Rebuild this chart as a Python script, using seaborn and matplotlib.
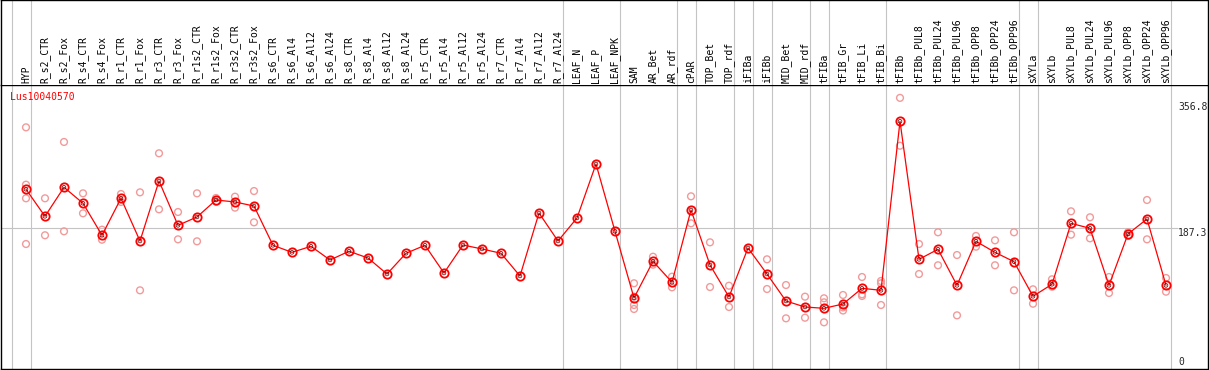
import numpy as np
import pandas as pd
import matplotlib.pyplot as plt
import seaborn as sns

# ---------------------------------------------------------
# data (expression per sample)
# ---------------------------------------------------------
GENE = "Lus10040570"

samples = [
    "HYP", "R_s2_CTR", "R_s2_Fox", "R_s4_CTR", "R_s4_Fox", "R_r1_CTR", "R_r1_Fox",
    "R_r3_CTR", "R_r3_Fox", "R_r1s2_CTR", "R_r1s2_Fox", "R_r3s2_CTR", "R_r3s2_Fox",
    "R_s6_CTR", "R_s6_Al4", "R_s6_Al12", "R_s6_Al24", "R_s8_CTR", "R_s8_Al4",
    "R_s8_Al12", "R_s8_Al24", "R_r5_CTR", "R_r5_Al4", "R_r5_Al12", "R_r5_Al24",
    "R_r7_CTR", "R_r7_Al4", "R_r7_Al12", "R_r7_Al24", "LEAF_N", "LEAF_P", "LEAF_NPK",
    "SAM", "AR_Bet", "AR_rdf", "cPAR", "TOP_Bet", "TOP_rdf", "iFIBa", "iFIBb",
    "MID_Bet", "MID_rdf", "tFIBa", "tFIB_Gr", "tFIB_Li", "tFIB_Bi", "tFIBb",
    "tFIBb_PUL8", "tFIBb_PUL24", "tFIBb_PUL96", "tFIBb_OPP8", "tFIBb_OPP24",
    "tFIBb_OPP96", "sXYLa", "sXYLb", "sXYLb_PUL8", "sXYLb_PUL24", "sXYLb_PUL96",
    "sXYLb_OPP8", "sXYLb_OPP24", "sXYLb_OPP96",
]

mean_expr = [
    237.4, 202.1, 240.0, 219.1, 177.3, 225.6, 169.8, 248.2, 190.3, 201.2, 223.4,
    220.8, 215.5, 164.2, 155.0, 162.9, 145.0, 156.4, 147.6, 126.7, 153.8, 164.2,
    128.0, 164.6, 159.4, 153.8, 124.1, 206.4, 169.8, 199.9, 270.4, 182.5, 95.4,
    143.3, 115.9, 210.3, 138.5, 96.7, 160.7, 126.7, 91.4, 83.6, 81.9, 87.5, 108.0,
    105.4, 326.2, 145.9, 159.0, 111.9, 169.4, 155.0, 142.8, 97.6, 113.3, 192.9,
    186.4, 111.9, 179.0, 198.6, 111.9,
]

nan = np.nan
rep_1 = [
    318.3, 225.6, 299.2, 232.1, 184.6, 231.2, 233.4, 284.4, 207.7, 232.1, 226.0,
    227.7, 235.1, nan, nan, nan, nan, nan, nan, nan, nan, nan, nan, nan, nan, nan,
    nan, nan, nan, nan, nan, nan, 114.6, 149.3, 123.2, 228.2, 168.1, 111.4, nan,
    145.9, 112.3, 97.1, 95.0, 99.3, 122.8, 117.6, 356.8, 165.9, 181.2, 151.5, 176.4,
    170.7, 181.2, 106.7, 119.8, 208.6, 200.8, 122.8, 181.2, 223.4, 121.5,
]
rep_2 = [
    243.4, 177.3, 182.5, 206.0, 171.5, 220.8, 105.4, 211.2, 172.0, 169.4, 221.0,
    213.4, 194.2, nan, nan, nan, nan, nan, nan, nan, nan, nan, nan, nan, nan, nan,
    nan, nan, nan, nan, nan, nan, 97.1, 138.9, 109.3, 192.9, 109.7, 83.6, nan,
    107.1, 68.8, 69.6, 89.7, 83.0, 100.2, 114.6, 294.3, 126.7, 138.1, 72.7, 162.4,
    138.1, 105.4, 87.9, 110.1, 178.1, 173.3, 101.9, 176.4, 172.0, 103.6,
]
rep_3 = [225.6] + [nan] * 31 + [86.2] + [nan] * 9 + [63.6, 79.0, 98.0, 86.2] + [nan] * 15
rep_4 = [165.9] + [nan] * 31 + [81.0] + [nan] * 28

# groups end after these sample indices (grey separators)
group_ends = [-1, 0, 28, 31, 34, 35, 37, 38, 39, 41, 42, 45, 52, 53, 60]

y_ticks = [356.8, 187.3, 0]

# ---------------------------------------------------------
# frames
# ---------------------------------------------------------
df_mean = pd.DataFrame({"pos": np.arange(len(samples)), "sample": samples, "expr": mean_expr})
df_rep = pd.DataFrame({"pos": np.arange(len(samples)),
                       "r1": rep_1, "r2": rep_2, "r3": rep_3, "r4": rep_4})
df_rep = df_rep.melt(id_vars="pos", value_name="expr").dropna()

# ---------------------------------------------------------
# figure
# ---------------------------------------------------------
sns.set_style("white")
plt.rcParams["font.family"] = ["DejaVu Sans Mono", "DejaVu Sans"]

W, H = 1209, 370
fig = plt.figure(figsize=(W / 100, H / 100), dpi=100)

# sample i sits at x = 26 + 19 i px, value v at y = 371 - 0.7655 v px
x_lo, x_hi = (1 - 26) / 19, (1208 - 26) / 19
ax = fig.add_axes([1 / W, 1 / H, 1207 / W, 284 / H])
ax.set_xlim(x_lo, x_hi)
ax.set_ylim((371 - 369) / 0.7655, (371 - 85) / 0.7655)

lab = fig.add_axes([1 / W, 285 / H, 1207 / W, 85 / H])
lab.set_xlim(x_lo, x_hi)
lab.set_ylim(0, 85)

grey = "#c4c4c4"
for a in (ax, lab):
    for g in group_ends:
        a.axvline(g + 4.5 / 19, color=grey, lw=0.8, zorder=0)
    a.set_xticks([])
    a.set_yticks([])
    for s in a.spines.values():
        s.set_color("black")
        s.set_linewidth(1.0)
lab.spines["bottom"].set_visible(False)

x_txt = (1178 - 26) / 19
ax.hlines(y_ticks[1], x_lo, x_txt, color=grey, lw=0.8, zorder=0)

# replicates
sns.scatterplot(data=df_rep, x="pos", y="expr", ax=ax, marker="o", s=24,
                facecolor="none", edgecolor="#f29a9a", linewidth=1.0, zorder=2,
                legend=False)

# mean line
sns.lineplot(data=df_mean, x="pos", y="expr", ax=ax, sort=False, color="red",
             lw=0.9, marker="o", markersize=6, markerfacecolor="none",
             markeredgecolor="red", markeredgewidth=1.3, zorder=3)
sns.scatterplot(data=df_mean, x="pos", y="expr", ax=ax, marker="o", s=7,
                facecolor="none", edgecolor="#500000", linewidth=0.5, zorder=4,
                legend=False)

ax.set_xlabel("")
ax.set_ylabel("")

# sample labels
for i, name in enumerate(samples):
    lab.text(i, 2, name, rotation=90, ha="center", va="bottom", fontsize=7,
             color="black")

# gene id
ax.text(9 / 1207, (369 - 97) / 284, GENE, transform=ax.transAxes, color="red",
        fontsize=7, ha="left", va="center")

# value labels on the right
xt = ax.get_xaxis_transform()
ax.text(x_txt, 0.9225, f"{y_ticks[0]}", transform=xt, fontsize=7, ha="left", va="center")
ax.text(x_txt, y_ticks[1], f"{y_ticks[1]}", fontsize=7, ha="left", va="top")
ax.text(x_txt, 0.026, f"{y_ticks[2]}", transform=xt, fontsize=7, ha="left", va="center")

fig.savefig("out.png", dpi=100)
